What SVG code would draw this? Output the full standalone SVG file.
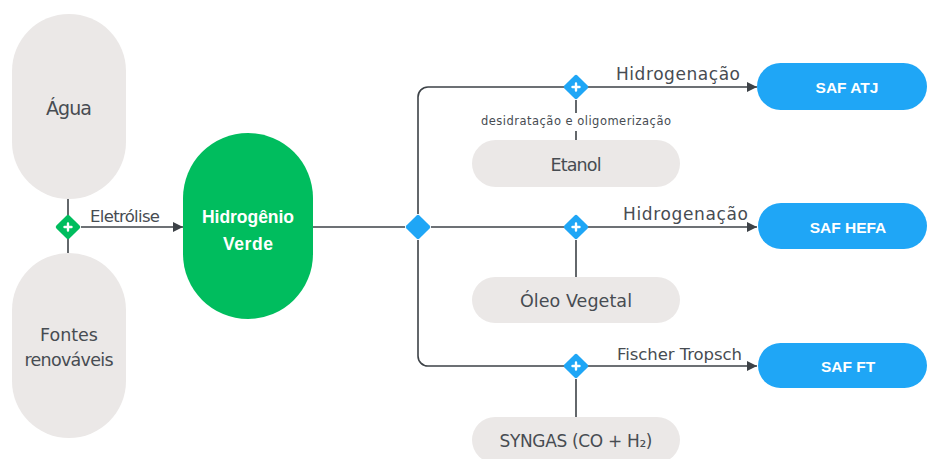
<svg xmlns="http://www.w3.org/2000/svg" width="927" height="459" viewBox="0 0 927 459">
<defs>
<style>
.gray{fill:#ebe8e7}
.green{fill:#00bd5e}
.blue{fill:#1fa6f6}
.ln{fill:none;stroke:#3d4247;stroke-width:1.6}
.t{font-family:"DejaVu Sans","Liberation Sans",sans-serif;fill:#474c52;text-anchor:middle}
.w{font-family:"Liberation Sans","DejaVu Sans",sans-serif;fill:#ffffff;font-weight:bold;text-anchor:middle}
.plus{stroke:#fff;stroke-width:2.4;stroke-linecap:round}
</style>
<marker id="ar" viewBox="0 0 10 10" refX="10" refY="5" markerWidth="10" markerHeight="10" markerUnits="userSpaceOnUse" orient="auto">
<path d="M0,0 L10,5 L0,10 Z" fill="#3d4247"/>
</marker>
<g id="gw">
<rect x="-9.2" y="-9.2" width="18.4" height="18.4" rx="2" transform="rotate(45)"/>
</g>
</defs>
<rect width="927" height="459" fill="#ffffff"/>

<g id="connectors">
<path class="ln" d="M68,199 V253"/>
<path class="ln" d="M81,227 H183" marker-end="url(#ar)"/>
<path class="ln" d="M313,227 H405"/>
<path class="ln" d="M431,227 H757" marker-end="url(#ar)"/>
<path class="ln" d="M418,214 V97 A10,10 0 0 1 428,87 H757" marker-end="url(#ar)"/>
<path class="ln" d="M418,240 V356 A10,10 0 0 0 428,366 H757" marker-end="url(#ar)"/>
<path class="ln" d="M576,100 V113"/>
<path class="ln" d="M576,131 V140"/>
<path class="ln" d="M576,240 V277"/>
<path class="ln" d="M576,379 V417"/>
<text class="t" x="125" y="222" font-size="16.5" textLength="70">Eletrólise</text>
<text class="t" x="678" y="80" font-size="17" textLength="124">Hidrogenação</text>
<text class="t" x="685.5" y="220" font-size="17" textLength="125">Hidrogenação</text>
<text class="t" x="679.5" y="360" font-size="16.5" textLength="125">Fischer Tropsch</text>
<text class="t" x="576" y="125" font-size="11.5" textLength="190">desidratação e oligomerização</text>
</g>

<g id="agua">
<rect class="gray" x="12" y="14" width="114" height="185" rx="57"/>
<text class="t" x="69" y="115" font-size="19" textLength="46">Água</text>
</g>
<g id="fontes">
<rect class="gray" x="12" y="253" width="114" height="185" rx="57"/>
<text class="t" x="69" y="341" font-size="17.5">Fontes</text>
<text class="t" x="69" y="366" font-size="17.5" textLength="89">renováveis</text>
</g>
<g id="gate-green">
<use href="#gw" class="green" transform="translate(68,227)"/>
<path class="plus" d="M64.5,227 H71.5 M68,223.5 V230.5"/>
</g>
<g id="hidrogenio">
<rect class="green" x="183" y="133" width="130" height="186" rx="65"/>
<text class="w" x="248" y="223" font-size="17.5" textLength="92">Hidrogênio</text>
<text class="w" x="248" y="250" font-size="17.5" textLength="50">Verde</text>
</g>
<g id="split">
<use href="#gw" class="blue" transform="translate(418,227)"/>
</g>
<g id="gate-atj">
<use href="#gw" class="blue" transform="translate(576,87)"/>
<path class="plus" d="M572.5,87 H579.5 M576,83.5 V90.5"/>
</g>
<g id="gate-hefa">
<use href="#gw" class="blue" transform="translate(576,227)"/>
<path class="plus" d="M572.5,227 H579.5 M576,223.5 V230.5"/>
</g>
<g id="gate-ft">
<use href="#gw" class="blue" transform="translate(576,366)"/>
<path class="plus" d="M572.5,366 H579.5 M576,362.5 V369.5"/>
</g>
<g id="etanol">
<rect class="gray" x="472" y="140" width="208" height="47" rx="23.5"/>
<text class="t" x="576" y="171" font-size="17.5" textLength="51">Etanol</text>
</g>
<g id="oleo">
<rect class="gray" x="472" y="277" width="208" height="46" rx="23"/>
<text class="t" x="576" y="307" font-size="17.5" textLength="112">Óleo Vegetal</text>
</g>
<g id="syngas">
<rect class="gray" x="472" y="417" width="208" height="46" rx="23"/>
<text class="t" x="576" y="447" font-size="17" textLength="153">SYNGAS (CO + H₂)</text>
</g>
<g id="saf-atj">
<rect class="blue" x="757" y="63" width="170" height="47" rx="23.5"/>
<text class="w" x="847" y="93" font-size="15.5">SAF ATJ</text>
</g>
<g id="saf-hefa">
<rect class="blue" x="758" y="203" width="169" height="46" rx="23"/>
<text class="w" x="848" y="233" font-size="15.5">SAF HEFA</text>
</g>
<g id="saf-ft">
<rect class="blue" x="758" y="343" width="169" height="45" rx="22.5"/>
<text class="w" x="848" y="372" font-size="15.5">SAF FT</text>
</g>
</svg>
